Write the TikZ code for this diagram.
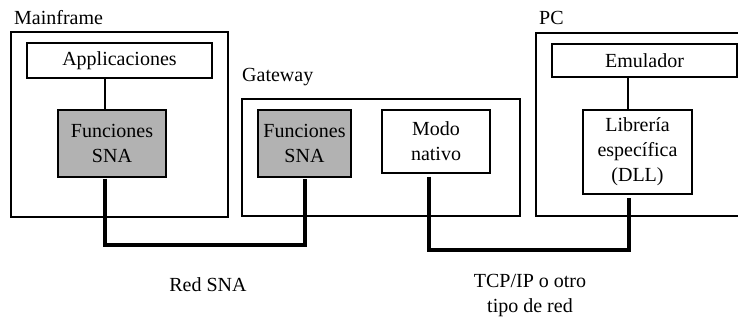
\documentclass[tikz,border=0pt]{standalone}
\usepackage{fontspec}
\setmainfont{Liberation Serif}
\begin{document}
\begin{tikzpicture}[x=1pt,y=-1pt,
  every node/.style={font=\fontsize{20}{25}\selectfont, inner sep=0pt},
  frame/.style={draw, line width=1.4pt, rectangle},
  box/.style={draw, line width=1.4pt, rectangle, align=center},
  graybox/.style={box, fill=black!30},
  link/.style={line width=1.4pt},
  net/.style={line width=4pt, line join=miter},
  lbl/.style={anchor=base west}]
\useasboundingbox (0,0) rectangle (738,320);
% outer frames
\node[frame, minimum width=217pt, minimum height=185pt] (mf) at (119.5,124.5) {};
\node[frame, minimum width=278pt, minimum height=117pt] (gw) at (381,157.5) {};
\node[frame, minimum width=216pt, minimum height=183pt] (pc) at (644,124.5) {};
% frame labels
\node[lbl] (mfl) at (14,25) {Mainframe};
\node[lbl] (gwl) at (242,82) {Gateway};
\node[lbl] (pcl) at (539,25) {PC};
% inner boxes
\node[box, minimum width=185pt, minimum height=35pt] (app) at (119.5,60.5) {Applicaciones};
\node[graybox, minimum width=108pt, minimum height=67pt] (funm) at (112,143.5) {Funciones\\SNA};
\node[graybox, minimum width=93pt, minimum height=67pt] (fung) at (304.5,143.5) {Funciones\\SNA};
\node[box, minimum width=108pt, minimum height=63pt] (modo) at (436,141.5) {Modo\\nativo};
\node[box, minimum width=185pt, minimum height=33pt] (emu) at (644.5,60.5) {Emulador};
\node[box, minimum width=109pt, minimum height=84pt] (lib) at (637.5,152) {\raisebox{-5pt}{\parbox{100pt}{\centering Librería\\específica\\(DLL)}}};
% ports
\coordinate (libport) at ([xshift=-8.5pt,yshift=-3pt]lib.south);
\coordinate (modoport) at ([xshift=-7pt,yshift=-3pt]modo.south);
\coordinate (funmport) at ([xshift=-7pt,yshift=-1pt]funm.south);
\coordinate (fungport) at ([yshift=-1pt]fung.south);
% thin links
\draw[link] ([xshift=-7pt]funm.north) -- ([xshift=-7pt]funm.north |- app.south);
\draw[link] ([xshift=-9.5pt]lib.north) -- ([xshift=-9.5pt]lib.north |- emu.south);
% network lines
\coordinate (snay) at (0,245);
\coordinate (tcpy) at (0,250);
\draw[net] (funmport) |- (snay -| fungport) -- (fungport);
\draw[net] (modoport) |- (tcpy -| libport) -- (libport);
% network labels
\node (red) at (208,285) {Red SNA};
\node[align=center] (tcp) at (530,296) {TCP/IP o otro\\tipo de red};
\end{tikzpicture}
\end{document}
